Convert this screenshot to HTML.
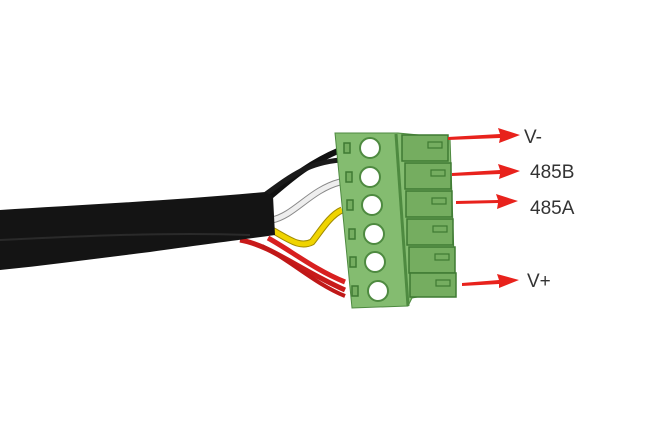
<!DOCTYPE html>
<html><head><style>html,body{margin:0;padding:0;background:#fff;}svg{display:block}</style></head>
<body>
<svg width="671" height="433" viewBox="0 0 671 433" xmlns="http://www.w3.org/2000/svg">
<!-- wires -->
<path d="M266,200 C290,180 305,165 340,150" stroke="#111" stroke-width="6" fill="none"/>
<path d="M266,194 C292,175 308,163 340,160" stroke="#1a1a1a" stroke-width="5" fill="none"/>
<path d="M272,220 C295,215 310,190 340,182" stroke="#888" stroke-width="7" fill="none"/>
<path d="M272,220 C295,215 310,190 340,182" stroke="#eee" stroke-width="5" fill="none"/>
<path d="M272,230 C290,240 300,248 312,242 C320,232 330,215 342,210" stroke="#a08a00" stroke-width="7" fill="none"/>
<path d="M272,230 C290,240 300,248 312,242 C320,232 330,215 342,210" stroke="#f0d400" stroke-width="5" fill="none"/>
<path d="M240,240 C270,245 300,270 345,290" stroke="#c81a1a" stroke-width="5" fill="none"/>
<path d="M268,238 C290,250 315,270 345,282" stroke="#d82020" stroke-width="5" fill="none"/>
<path d="M262,246 C290,260 315,284 345,296" stroke="#c01818" stroke-width="4" fill="none"/>
<!-- cable -->
<path d="M0,210 C80,205 180,200 265,192 L273,196 L275,235 C240,240 200,245 150,252 C100,258 50,265 0,270 Z" fill="#141414"/>
<path d="M0,240 C80,236 170,232 250,235" stroke="#2a2a2a" stroke-width="2" fill="none"/>
<!-- connector -->
<polygon points="335,133 398,133 450,138 455,286 445,292 412,298 408,306 352,308" fill="#84bc70" stroke="#4e8a40" stroke-width="1"/>
<line x1="396" y1="134" x2="408" y2="306" stroke="#4e8a40" stroke-width="3"/>
<g fill="#fff" stroke="#4e8a40" stroke-width="2">
<circle cx="370" cy="148" r="10"/><circle cx="370" cy="177" r="10"/><circle cx="372" cy="205" r="10"/>
<circle cx="374" cy="234" r="10"/><circle cx="375" cy="262" r="10"/><circle cx="378" cy="291" r="10"/>
</g>
<g fill="#75ad60" stroke="#3f7a32" stroke-width="1.5">
<rect x="344" y="143" width="6" height="10"/><rect x="346" y="172" width="6" height="10"/><rect x="347" y="200" width="6" height="10"/>
<rect x="349" y="229" width="6" height="10"/><rect x="350" y="257" width="6" height="10"/><rect x="352" y="286" width="6" height="10"/>
<rect x="402" y="135" width="46" height="26"/><rect x="405" y="163" width="46" height="26"/><rect x="406" y="191" width="46" height="26"/>
<rect x="407" y="219" width="46" height="26"/><rect x="409" y="247" width="46" height="26"/><rect x="410" y="273" width="46" height="24"/>
</g>
<g fill="none" stroke="#3f7a32" stroke-width="1.2">
<rect x="428" y="142" width="14" height="6"/><rect x="431" y="170" width="14" height="6"/><rect x="432" y="198" width="14" height="6"/>
<rect x="433" y="226" width="14" height="6"/><rect x="435" y="254" width="14" height="6"/><rect x="436" y="280" width="14" height="6"/>
</g>
<!-- arrows -->
<g fill="#e8221c" stroke="none">
<path d="M448,137 L500,134 L498,128 L520,135 L499,143 L500,138 L448,140 Z"/>
<path d="M452,173 L500,170 L498,164 L520,171 L499,179 L500,174 L452,176 Z"/>
<path d="M456,201 L498,200 L496,194 L518,201 L497,209 L498,203 L456,204 Z"/>
<path d="M462,283 L499,280 L497,274 L519,280 L499,288 L499,284 L462,286 Z"/>
</g>
<g font-family="Liberation Sans, sans-serif" font-size="19" fill="#333">
<text x="524" y="143">V-</text>
<text x="530" y="178">485B</text>
<text x="530" y="214">485A</text>
<text x="527" y="287">V+</text>
</g>
</svg>
</body></html>
